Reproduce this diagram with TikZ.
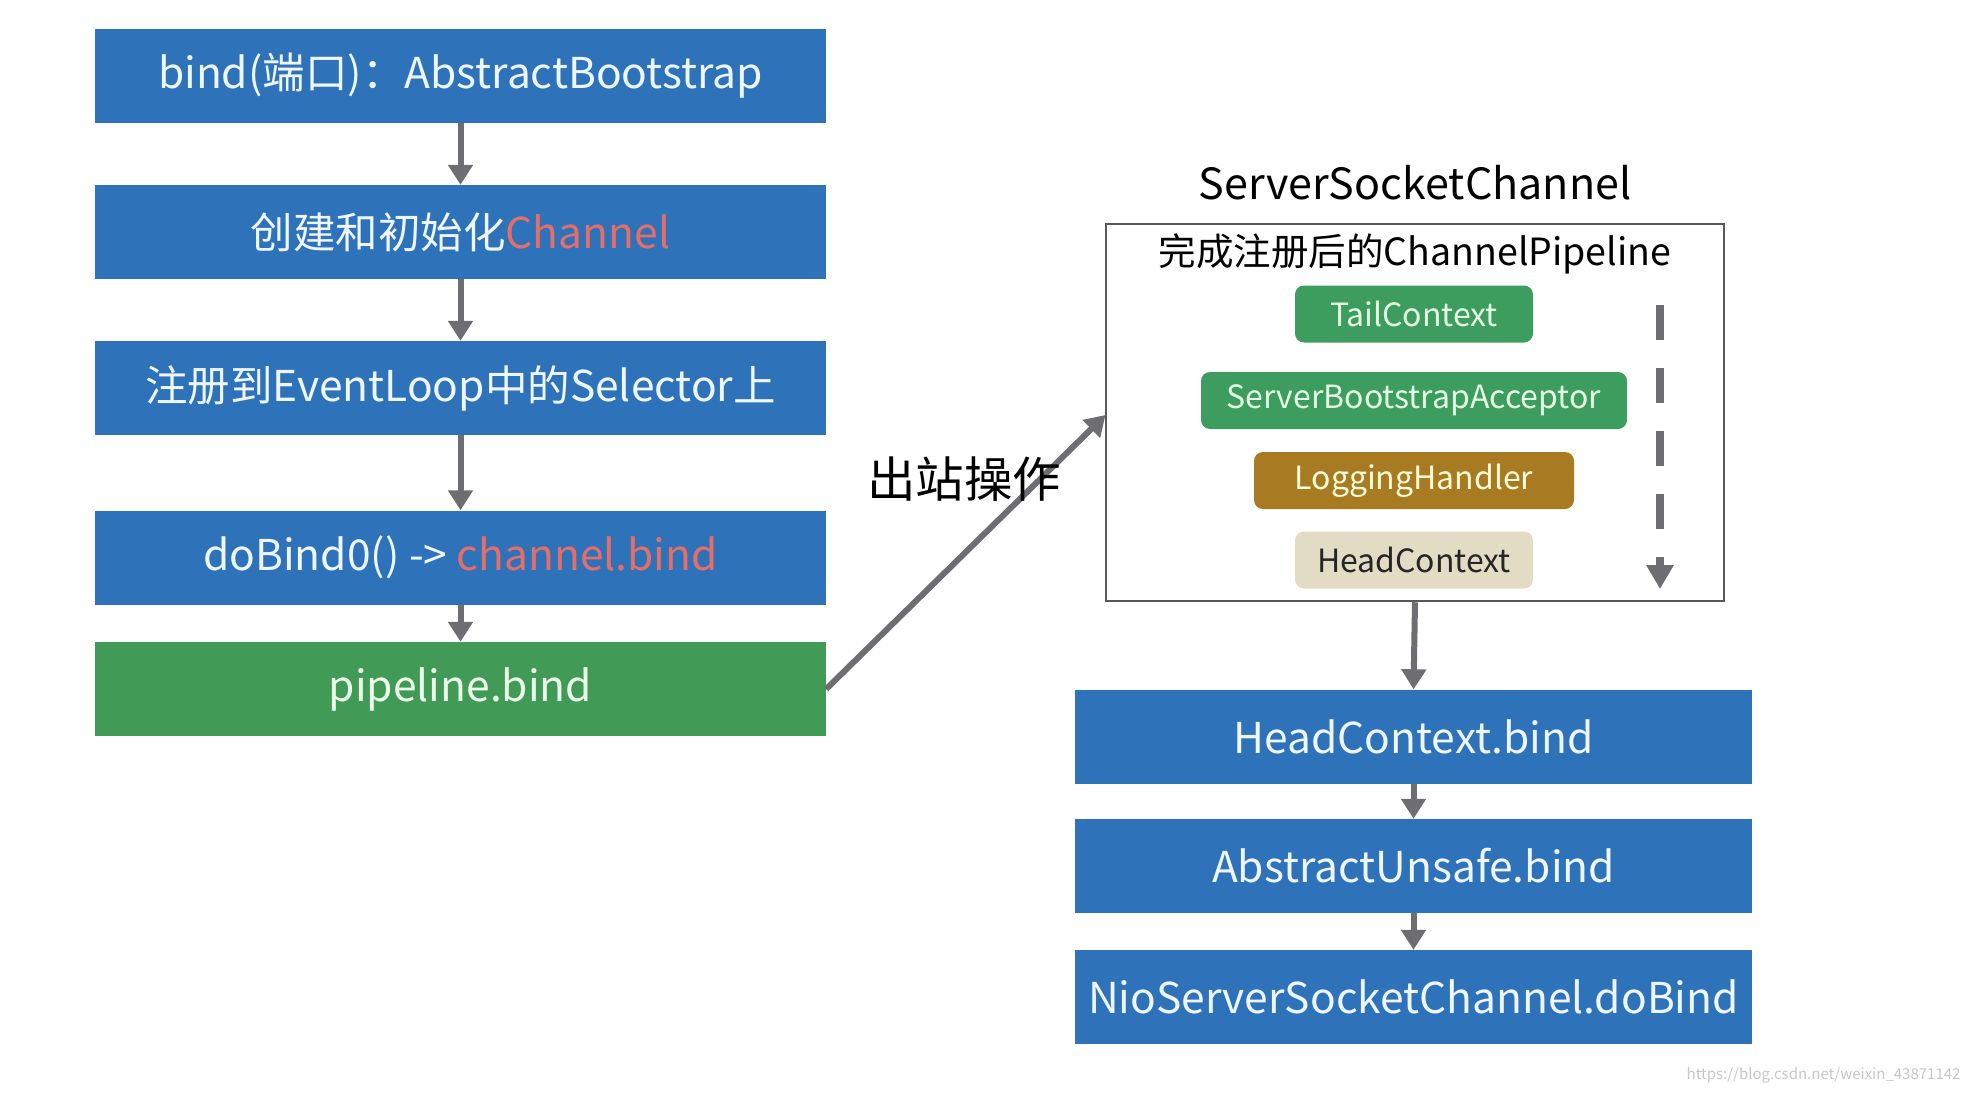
\documentclass[tikz,border=0pt]{standalone}
\usepackage{fontspec}
\setmainfont{Noto Sans CJK SC}
\usetikzlibrary{arrows.meta}
\definecolor{boxblue}{HTML}{2E72BA}
\definecolor{boxgreen}{HTML}{429A57}
\definecolor{ctxgreen}{HTML}{3C9D5E}
\definecolor{ochre}{HTML}{A87A22}
\definecolor{beige}{HTML}{E2DCC4}
\definecolor{redtxt}{HTML}{E56F68}
\definecolor{arrgray}{HTML}{6E6E72}
\definecolor{lighttxt}{HTML}{EEF6FF}
\tikzset{
  mainbox/.style={fill=boxblue, draw=none, minimum width=731pt, minimum height=94pt, inner sep=0pt, text=lighttxt, font=\fontsize{42.5}{50}\selectfont},
  rightbox/.style={mainbox, minimum width=677pt},
  ctx/.style={rounded corners=9pt, draw=none, minimum height=57pt, inner sep=0pt, font=\fontsize{32}{38}\selectfont},
  flow/.style={draw=arrgray, line width=6pt, -{Triangle[width=24pt,length=20pt]}},
}
\begin{document}
\begin{tikzpicture}[x=1pt,y=-1pt]
\useasboundingbox[fill=white] (0,0) rectangle (1972,1094);
% left column
\node[mainbox] (b1) at (460.5,76) {bind(端口)：AbstractBootstrap};
\node[mainbox] (b2) at (460.5,232) {创建和初始化\textcolor{redtxt}{Channel}};
\node[mainbox] (b3) at (460.5,388) {注册到EventLoop中的Selector上};
\node[mainbox] (b4) at (460.5,557.5) {doBind0() -> \textcolor{redtxt}{channel.bind}};
\node[mainbox, fill=boxgreen, text=green!8!white] (b5) at (460.5,689) {pipeline.bind};
\draw[flow] (b1.south) -- (b2.north);
\draw[flow] (b2.south) -- (b3.north);
\draw[flow] (b3.south) -- (b4.north);
\draw[flow] (b4.south) -- (b5.north);
% right: pipeline
\node[font=\fontsize{43}{52}\selectfont] (ssc) at (1415,183) {ServerSocketChannel};
\node[draw=arrgray!80!black, line width=2.5pt, minimum width=618pt, minimum height=377pt, inner sep=0pt] (pipe) at (1415,412.5) {};
\node[font=\fontsize{37.5}{45}\selectfont] (ptitle) at (1415,254) {完成注册后的ChannelPipeline};
\node[ctx, fill=ctxgreen, text=green!10!white, minimum width=238pt] (tail) at (1414,314) {TailContext};
\node[ctx, fill=ctxgreen, text=green!10!white, minimum width=426pt] (sba) at (1414,400.5) {ServerBootstrapAcceptor};
\node[ctx, fill=ochre, text=yellow!15!white, minimum width=320pt] (log) at (1414,480.5) {LoggingHandler};
\node[ctx, fill=beige, text=black!85, minimum width=238pt] (head) at (1414,560) {HeadContext};
\coordinate (dtop) at (1660,305);
\coordinate (dbot) at (1660,589);
\draw[draw=arrgray, line width=8pt, dash pattern=on 35pt off 28pt, -{Triangle[width=26pt,length=24pt]}] (dtop) -- (dbot);
% outbound arrow
\coordinate (pin) at (1105.5,415);
\draw[flow] (b5.east) -- (pin);
\node[font=\fontsize{48.5}{58}\selectfont] (out) at (964,479) {出站操作};
% right column
\node[rightbox] (hb) at (1413.5,736.5) {HeadContext.bind};
\node[rightbox] (ab) at (1413.5,866) {AbstractUnsafe.bind};
\node[rightbox] (nb) at (1413.5,997) {NioServerSocketChannel.doBind};
\draw[flow] (pipe.south) -- (hb.north);
\draw[flow] (hb.south) -- (ab.north);
\draw[flow] (ab.south) -- (nb.north);
% watermark
\node[text=black!22, font=\fontsize{15}{18}\selectfont, anchor=east] (wm) at (1964,1075) {https://blog.csdn.net/weixin\_43871142};
\end{tikzpicture}
\end{document}
